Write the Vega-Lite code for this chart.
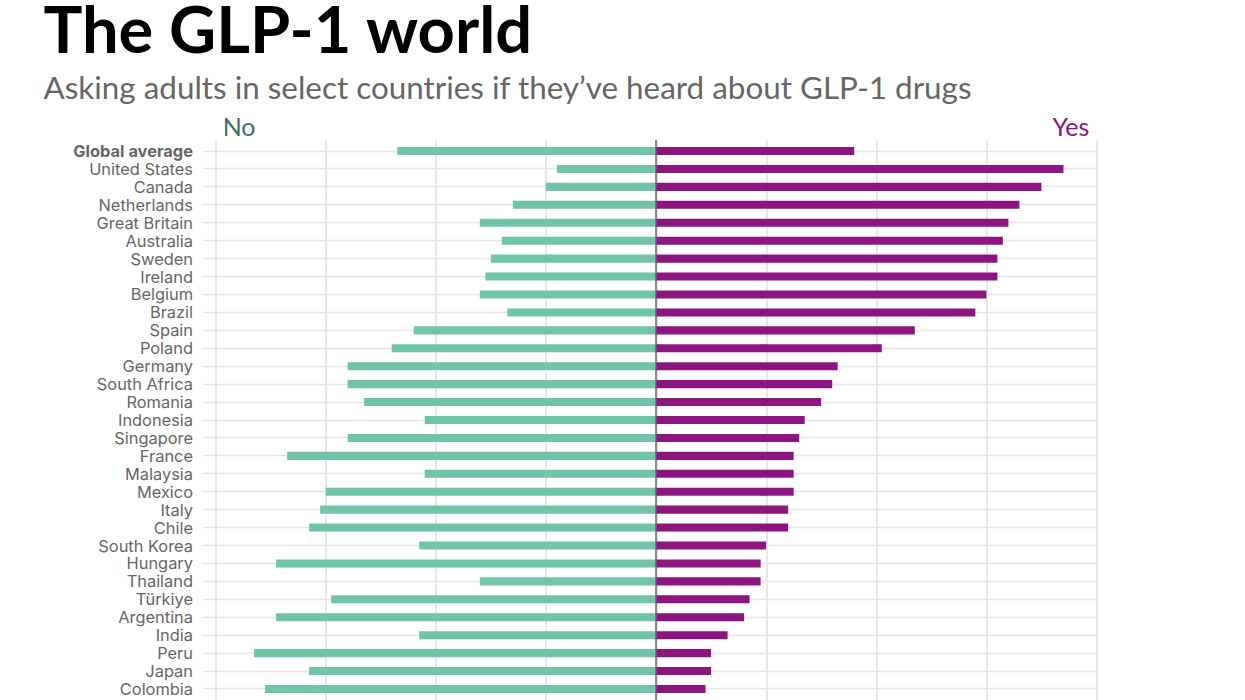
{
  "$schema": "https://vega.github.io/schema/vega-lite/v6.json",
  "width": 881,
  "height": 560,
  "autosize": {"type": "none"},
  "padding": {"left": 215.5, "top": 140, "right": 148, "bottom": 0},
  "background": "white",
  "title": {
    "text": "The GLP-1 world",
    "subtitle": "Asking adults in select countries if they’ve heard about GLP-1 drugs",
    "anchor": "start",
    "frame": "group",
    "dx": -172,
    "offset": 10,
    "font": "Lato",
    "fontSize": 65,
    "fontWeight": 700,
    "color": "#000000",
    "subtitleFont": "Lato",
    "subtitleFontSize": 31.4,
    "subtitleFontWeight": 400,
    "subtitleColor": "#666666",
    "subtitlePadding": 7
  },
  "layer": [
    {
      "data": {"name": "survey"},
      "transform": [
        {"fold": ["no", "yes"], "as": ["answer", "share"]},
        {"calculate": "datum.answer === 'no' ? -datum.share : datum.share", "as": "signed"}
      ],
      "mark": {"type": "bar"},
      "encoding": {
        "y": {
          "field": "country",
          "type": "nominal",
          "sort": null,
          "title": null,
          "scale": {"paddingInner": 0.55, "paddingOuter": 0.39},
          "axis": {
            "domain": false,
            "ticks": true,
            "tickSize": 13,
            "tickColor": "#e6e6e6",
            "tickWidth": 1.5,
            "grid": true,
            "gridColor": "#e6e6e6",
            "gridWidth": 1.5,
            "labelFont": "Inter",
            "labelFontSize": 16.4,
            "labelColor": "#666666",
            "labelPadding": 10,
            "labelOffset": 1,
            "labelFontWeight": {"condition": {"test": "datum.value === 'Global average'", "value": 700}, "value": 400},
            "labelOverlap": false
          }
        },
        "x": {
          "field": "signed",
          "type": "quantitative",
          "scale": {"domain": [-80, 80], "nice": false},
          "title": null,
          "axis": {
            "values": [-80, -60, -40, -20, 0, 20, 40, 60, 80],
            "labels": false,
            "domain": false,
            "ticks": false,
            "grid": true,
            "gridColor": "#dcdcdc",
            "gridWidth": 1.3
          }
        },
        "x2": {"datum": 0},
        "color": {
          "field": "answer",
          "type": "nominal",
          "scale": {"domain": ["no", "yes"], "range": ["#70c4aa", "#8c1580"]},
          "legend": null
        }
      }
    },
    {
      "data": {"values": [{"zero": 0}]},
      "mark": {"type": "rule", "color": "#666666", "strokeWidth": 1.5},
      "encoding": {"x": {"field": "zero", "type": "quantitative"}}
    },
    {
      "data": {"values": [{"country": "Global average", "pos": -78.7, "label": "No"}]},
      "mark": {"type": "text", "align": "left", "baseline": "middle", "dy": -23, "font": "Lato", "fontSize": 25, "color": "#3f6f60"},
      "encoding": {
        "y": {"field": "country", "type": "nominal", "sort": null},
        "x": {"field": "pos", "type": "quantitative"},
        "text": {"field": "label"}
      }
    },
    {
      "data": {"values": [{"country": "Global average", "pos": 78.7, "label": "Yes"}]},
      "mark": {"type": "text", "align": "right", "baseline": "middle", "dy": -23, "font": "Lato", "fontSize": 25, "color": "#8c1580"},
      "encoding": {
        "y": {"field": "country", "type": "nominal", "sort": null},
        "x": {"field": "pos", "type": "quantitative"},
        "text": {"field": "label"}
      }
    }
  ],
  "datasets": {
    "survey": [
      {"country": "Global average", "no": 47, "yes": 36},
      {"country": "United States", "no": 18, "yes": 74},
      {"country": "Canada", "no": 20, "yes": 70},
      {"country": "Netherlands", "no": 26, "yes": 66},
      {"country": "Great Britain", "no": 32, "yes": 64},
      {"country": "Australia", "no": 28, "yes": 63},
      {"country": "Sweden", "no": 30, "yes": 62},
      {"country": "Ireland", "no": 31, "yes": 62},
      {"country": "Belgium", "no": 32, "yes": 60},
      {"country": "Brazil", "no": 27, "yes": 58},
      {"country": "Spain", "no": 44, "yes": 47},
      {"country": "Poland", "no": 48, "yes": 41},
      {"country": "Germany", "no": 56, "yes": 33},
      {"country": "South Africa", "no": 56, "yes": 32},
      {"country": "Romania", "no": 53, "yes": 30},
      {"country": "Indonesia", "no": 42, "yes": 27},
      {"country": "Singapore", "no": 56, "yes": 26},
      {"country": "France", "no": 67, "yes": 25},
      {"country": "Malaysia", "no": 42, "yes": 25},
      {"country": "Mexico", "no": 60, "yes": 25},
      {"country": "Italy", "no": 61, "yes": 24},
      {"country": "Chile", "no": 63, "yes": 24},
      {"country": "South Korea", "no": 43, "yes": 20},
      {"country": "Hungary", "no": 69, "yes": 19},
      {"country": "Thailand", "no": 32, "yes": 19},
      {"country": "Türkiye", "no": 59, "yes": 17},
      {"country": "Argentina", "no": 69, "yes": 16},
      {"country": "India", "no": 43, "yes": 13},
      {"country": "Peru", "no": 73, "yes": 10},
      {"country": "Japan", "no": 63, "yes": 10},
      {"country": "Colombia", "no": 71, "yes": 9}
    ]
  },
  "config": {"view": {"stroke": null}}
}
